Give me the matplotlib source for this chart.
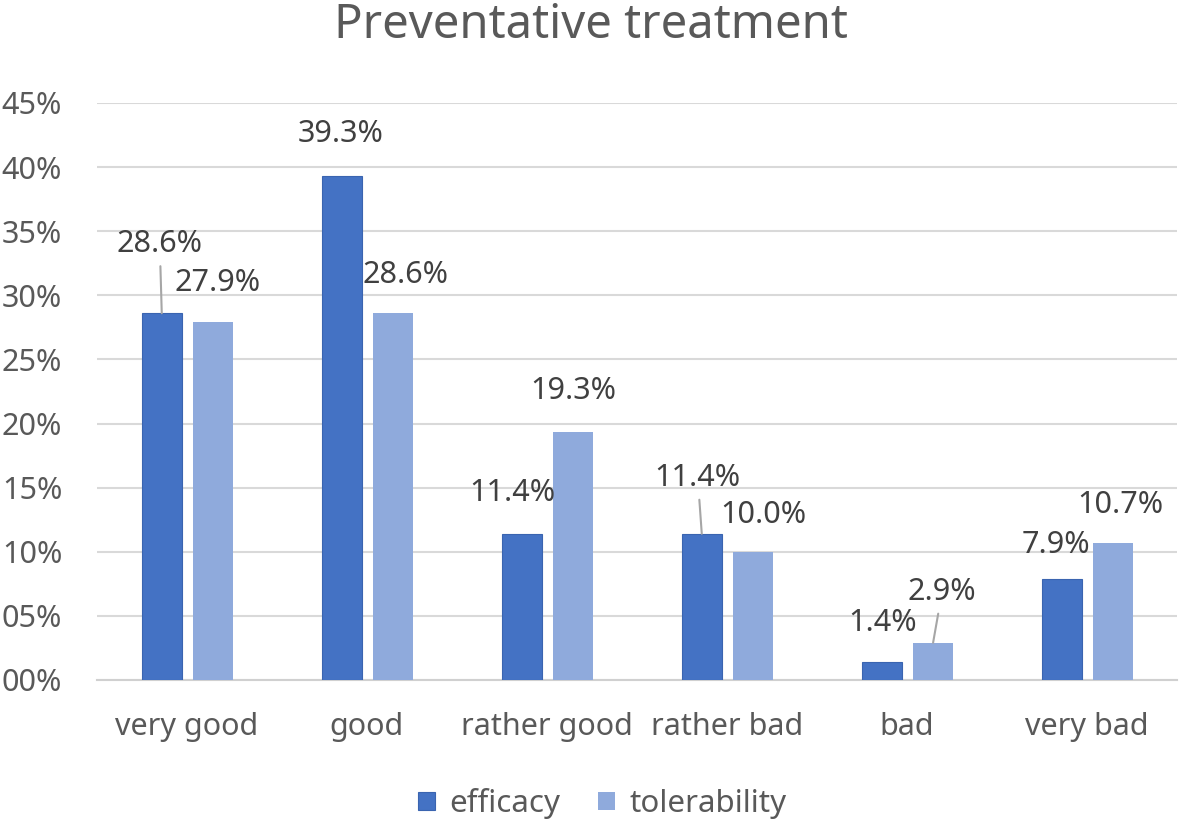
import numpy as np
import matplotlib.pyplot as plt

plt.rcParams['font.family'] = ['Noto Sans', 'DejaVu Sans']

# Data
categories = ['very good', 'good', 'rather good', 'rather bad', 'bad', 'very bad']
efficacy = [28.6, 39.3, 11.4, 11.4, 1.4, 7.9]
tolerability = [27.9, 28.6, 19.3, 10.0, 2.9, 10.7]

# label offsets from bar top (pixels) and whether a leader line is drawn
eff_offsets = [(-2, 69), (-1, 42), (-9, 41), (-4, 56), (1, 39), (-6, 34)]
tol_offsets = [(4, 39), (12, 38), (0, 41), (10, 37), (9, 51), (7, 38)]
eff_leader = [True, False, False, True, False, False]
tol_leader = [False, False, False, False, True, False]

c_eff = '#4472C4'
c_tol = '#8FAADC'
grey = '#595959'

fig = plt.figure(figsize=(11.81, 8.25), dpi=100)
ax = fig.add_axes([0.0821, 0.1758, 0.9145, 0.6994])

x = np.arange(len(categories))
w = 0.224
b1 = ax.bar(x - 0.14, np.array(efficacy) / 100, width=w, color=c_eff, edgecolor='#3A64B0', linewidth=0.8, label='efficacy', zorder=3)
b2 = ax.bar(x + 0.145, np.array(tolerability) / 100, width=w, color=c_tol, label='tolerability', zorder=3)

def add_labels(bars, vals, offsets, leaders):
    for bar, v, (dx, dy), lead in zip(bars, vals, offsets, leaders):
        xy = (bar.get_x() + bar.get_width() / 2, bar.get_height())
        arrow = dict(arrowstyle='-', color='#A6A6A6', lw=1.5, shrinkA=3, shrinkB=0) if lead else None
        ax.annotate(f'{v:.1f}%', xy=xy, xytext=(dx, dy), textcoords='offset pixels',
                    ha='center', va='center', fontsize=22, color='#404040',
                    arrowprops=arrow, zorder=4)

add_labels(b1, efficacy, eff_offsets, eff_leader)
add_labels(b2, tolerability, tol_offsets, tol_leader)

ax.set_xlim(-0.5, 5.5)
ax.set_ylim(0, 0.45)
yt = np.arange(0, 0.451, 0.05)
ax.set_yticks(yt)
ax.set_yticklabels([f'{int(round(v * 100)):02d}%' for v in yt])
ax.set_xticks(x)
ax.set_xticklabels(categories)
ax.tick_params(axis='both', length=0, labelsize=22, colors=grey)
ax.tick_params(axis='y', pad=25)
ax.tick_params(axis='x', pad=23)
ax.yaxis.grid(True, color='#D9D9D9', lw=1.5, zorder=0)
for s in ['top', 'right', 'left']:
    ax.spines[s].set_visible(False)
ax.spines['bottom'].set_color('#D0D0D0')
ax.spines['bottom'].set_linewidth(1.5)

fig.text(0.5, 0.969, 'Preventative treatment', ha='center', va='center', fontsize=34, color=grey)

fig.legend(loc='center', bbox_to_anchor=(0.51, 0.026), ncol=2, frameon=False,
           fontsize=22.5, labelcolor=grey, handlelength=0.55, handleheight=0.55,
           handletextpad=0.45, columnspacing=1.2)

fig.savefig('out.png', dpi=100)
